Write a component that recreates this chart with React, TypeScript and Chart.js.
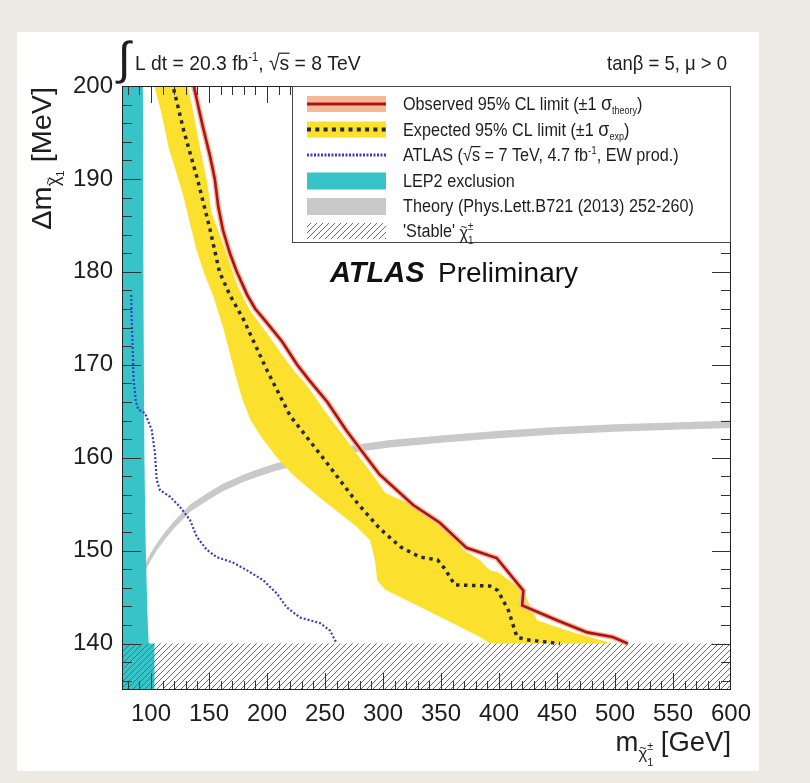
import React, { useEffect, useRef } from 'react';
import { Chart, registerables } from 'chart.js';

Chart.register(...registerables);

const FONT = "'Liberation Sans', Arial, Helvetica, sans-serif";

// ---- axes ----
const xMin = 75;
const xMax = 600;
const yMin = 135;
const yMax = 200;
const xTickLabels = [100, 150, 200, 250, 300, 350, 400, 450, 500, 550, 600];
const yTickLabels = [140, 150, 160, 170, 180, 190, 200];

// ---- observed 95% CL limit ----
const obsX = [136, 144, 151, 155, 158, 162, 168, 174, 183, 190, 200, 213, 226, 236, 252, 268, 283, 297, 326, 349, 372, 398, 421, 420, 450, 476, 498, 511];
const obsY = [200.5, 196, 192.4, 190, 187, 184.5, 182, 180, 177.5, 176, 174.5, 172.5, 170, 168.4, 166, 163, 160.5, 158.2, 154.9, 153, 150.3, 149.2, 145.7, 144.1, 142.5, 141.2, 140.7, 140];

// ---- expected 95% CL limit ----
const expX = [118, 128, 140, 151, 159, 168, 180, 200, 220, 250, 278, 297, 315, 332, 347, 353, 362, 392, 399, 408, 415.5, 424, 452.6];
const expY = [200.5, 195.3, 190, 184.5, 180, 177.5, 174.8, 169.4, 164.5, 159.7, 155.1, 152.4, 150.4, 149.3, 149, 148.1, 146.3, 146.2, 145.7, 143.6, 140.7, 140.4, 140];

// ---- expected ±1 sigma band: lower-left edge (top to bottom) ----
const bandLoX = [101.7, 109, 115, 122, 128, 133.6, 139.4, 146, 154, 162, 168, 173, 179, 186, 197, 208, 221, 234, 248.5, 263, 277, 289, 293, 295, 302, 326, 355, 383.6, 392];
const bandLoY = [200.5, 197.1, 193.5, 190.6, 188.1, 185.2, 182.3, 179.8, 177.3, 174.1, 171.2, 168.8, 166.2, 164, 161.9, 160.1, 158.3, 156.9, 155.4, 154, 152.6, 151.1, 149, 146.8, 145.8, 144.3, 142.5, 140.7, 140];
// ---- expected ±1 sigma band: upper-right edge (top to bottom) ----
const bandHiX = [131, 136.5, 142, 148, 152.3, 161, 168, 175, 185, 200, 214, 225, 233, 250, 265, 280, 292, 302, 334.5, 357.8, 369, 383.6, 392, 399, 420.7, 432.8, 458.6, 498];
const bandHiY = [200.5, 197.1, 193.5, 189.9, 186.3, 183.4, 180.9, 178.4, 175.9, 173.4, 170.9, 169.1, 168, 165, 162.5, 160, 158, 156.2, 154.4, 152.2, 150.1, 149, 147.9, 147.7, 145.7, 142.5, 141.4, 140];

// ---- ATLAS 7 TeV, 4.7 fb-1 ----
const atlas7X = [83, 83.3, 84.2, 84.7, 85, 87, 89, 94.8, 100.6, 103.4, 104.9, 107.8, 116.4, 125, 133.6, 139.4, 148, 156.6, 171, 182.5, 196.8, 208.4, 217, 228.4, 245.7, 254.3, 260.1];
const atlas7Y = [177.5, 174.8, 172, 169.4, 168.4, 166, 165.2, 164.8, 163, 160.5, 157.6, 156.5, 155.8, 154.7, 153.3, 151.5, 150.1, 149.3, 148.7, 147.9, 146.8, 145.4, 143.9, 142.8, 142.2, 141.4, 140];

// ---- LEP2 exclusion ----
const lepX = [75, 93, 93.2, 93.6, 94.3, 95.5, 97, 98, 103, 103, 75];
const lepY = [200.5, 200.5, 190, 175, 160, 150, 143, 140, 140, 134.5, 134.5];

// ---- Theory band ----
const thX = [88, 91, 95, 100, 105, 112, 120, 134, 150, 162, 180, 191, 205, 220, 248, 277, 306, 350, 400, 450, 500, 550, 600];
const thLo = [146.2, 146.9, 147.8, 149.0, 150.0, 151.2, 152.4, 154.2, 155.5, 156.4, 157.4, 157.9, 158.5, 159.0, 159.9, 160.6, 161.1, 161.6, 162.1, 162.5, 162.8, 163.0, 163.2];
const thHi = [147.0, 147.7, 148.6, 149.8, 150.8, 152.0, 153.2, 155.0, 156.3, 157.2, 158.2, 158.7, 159.3, 159.8, 160.7, 161.4, 161.9, 162.4, 162.9, 163.3, 163.6, 163.8, 164.0];

// ---- 'Stable' region ----
const stableX = [75, 600, 600, 75];
const stableY = [135, 135, 140, 140];

const legendLabels = [
  'Observed 95% CL limit',
  'Expected 95% CL limit',
  'ATLAS',
  'LEP2 exclusion',
  'Theory (Phys.Lett.B721 (2013) 252-260)',
  "'Stable'",
];

const C_RED = '#a8141a';
const C_SALMON = '#f6b996';
const C_YELLOW = '#fbe12e';
const C_BLUE = '#3a3ad0';
const C_CYAN = '#38c3c8';
const C_GRAY = '#c9c9c9';
const C_DASH = '#2a2a2a';
const C_TEXT = '#1e1e1e';

const pts = (xs: number[], ys: number[]) => xs.map((x, i) => ({ x, y: ys[i] }));

type Seg = { t: string; s?: number; dy?: number; st?: boolean; ov?: boolean; ol?: boolean; w?: string };

function rich(
  ctx: CanvasRenderingContext2D,
  segs: Seg[],
  x: number,
  y: number,
  base: number,
  align: 'left' | 'right' | 'center',
  sx = 1,
  color = C_TEXT,
) {
  const items: { seg: Seg; size: number; start: number; w: number }[] = [];
  let cur = 0;
  let ps = 0;
  let pw = 0;
  for (const sg of segs) {
    const size = sg.s ?? base;
    ctx.font = `${sg.w ?? ''} ${size}px ${FONT}`;
    const w = ctx.measureText(sg.t).width;
    let start: number;
    if (sg.ov) {
      start = ps + (pw - w) / 2;
    } else if (sg.st) {
      start = ps;
      cur = Math.max(cur, start + w);
    } else {
      start = cur;
      cur += w;
      ps = start;
      pw = w;
    }
    items.push({ seg: sg, size, start, w });
  }
  const off = align === 'right' ? -cur : align === 'center' ? -cur / 2 : 0;
  ctx.save();
  ctx.translate(x, y);
  ctx.scale(sx, 1);
  ctx.fillStyle = color;
  ctx.strokeStyle = color;
  ctx.textAlign = 'left';
  ctx.textBaseline = 'alphabetic';
  for (const it of items) {
    ctx.font = `${it.seg.w ?? ''} ${it.size}px ${FONT}`;
    const dy = it.seg.dy ?? 0;
    ctx.fillText(it.seg.t, off + it.start, dy);
    if (it.seg.ol) {
      ctx.lineWidth = 1.2;
      ctx.beginPath();
      ctx.moveTo(off + it.start - 1, dy - it.size * 0.8);
      ctx.lineTo(off + it.start + it.w + 0.5, dy - it.size * 0.8);
      ctx.stroke();
    }
  }
  ctx.restore();
}

function makeHatch(): CanvasPattern {
  const c = document.createElement('canvas');
  const s = 6;
  c.width = s;
  c.height = s;
  const g = c.getContext('2d')!;
  g.strokeStyle = '#6a6a6a';
  g.lineWidth = 1;
  g.beginPath();
  g.moveTo(0, s);
  g.lineTo(s, 0);
  g.moveTo(-1, 1);
  g.lineTo(1, -1);
  g.moveTo(s - 1, s + 1);
  g.lineTo(s + 1, s - 1);
  g.stroke();
  return g.createPattern(c, 'repeat')!;
}

export default function App() {
  const ref = useRef<HTMLCanvasElement>(null);

  useEffect(() => {
    const canvas = ref.current!;
    const ctx = canvas.getContext('2d')!;
    const hatch = makeHatch();

    const yellowPoly = [...pts(bandLoX, bandLoY), ...pts(bandHiX, bandHiY).reverse()];
    const theoryPoly = [...pts(thX, thLo), ...pts(thX, thHi).reverse()];

    const decor = {
      id: 'atlasDecor',
      beforeDraw(chart: any) {
        const c = chart.ctx as CanvasRenderingContext2D;
        c.save();
        c.fillStyle = '#ecebe3';
        c.fillRect(0, 0, chart.width, chart.height);
        c.fillStyle = '#ffffff';
        c.fillRect(17, 32, 759 - 17, 771 - 32);
        c.restore();
      },
      afterDatasetsDraw(chart: any) {
        const c = chart.ctx as CanvasRenderingContext2D;
        const { left, right, top, bottom } = chart.chartArea;
        const xs = chart.scales.x;
        const ys = chart.scales.y;
        c.save();
        c.strokeStyle = '#333';
        c.lineWidth = 1;
        c.beginPath();
        for (let v = 80; v < 600; v += 10) {
          const px = Math.round(xs.getPixelForValue(v)) + 0.5;
          const len = v % 50 === 0 ? 17 : 9;
          c.moveTo(px, bottom);
          c.lineTo(px, bottom - len);
          c.moveTo(px, top);
          c.lineTo(px, top + len);
        }
        for (let v = 136; v < 200; v += 2) {
          const py = Math.round(ys.getPixelForValue(v)) + 0.5;
          const len = v % 10 === 0 ? 19 : 10;
          c.moveTo(left, py);
          c.lineTo(left + len, py);
          c.moveTo(right, py);
          c.lineTo(right - len, py);
        }
        c.stroke();
        c.strokeStyle = '#222';
        c.strokeRect(left + 0.5, top + 0.5, right - left - 1, bottom - top - 1);
        c.restore();
      },
      afterDraw(chart: any) {
        const c = chart.ctx as CanvasRenderingContext2D;
        const { right, top } = chart.chartArea;
        // ---- legend ----
        const lx0 = 292;
        const ly1 = 242;
        c.save();
        c.fillStyle = '#fff';
        c.fillRect(lx0, top, right - lx0, ly1 - top);
        c.strokeStyle = '#444';
        c.lineWidth = 1;
        c.strokeRect(lx0 + 0.5, top + 0.5, right - lx0 - 1, ly1 - top);
        const rows = [104, 129.5, 155, 180.5, 206, 231];
        const sx0 = 307;
        const sx1 = 386;
        // observed
        c.fillStyle = C_SALMON;
        c.fillRect(sx0, rows[0] - 8, sx1 - sx0, 16);
        c.strokeStyle = C_RED;
        c.lineWidth = 3;
        c.beginPath();
        c.moveTo(sx0, rows[0]);
        c.lineTo(sx1, rows[0]);
        c.stroke();
        // expected
        c.fillStyle = C_YELLOW;
        c.fillRect(sx0, rows[1] - 8, sx1 - sx0, 16);
        c.strokeStyle = C_DASH;
        c.lineWidth = 4;
        c.setLineDash([4, 4.3]);
        c.beginPath();
        c.moveTo(sx0, rows[1]);
        c.lineTo(sx1, rows[1]);
        c.stroke();
        // atlas 7
        c.strokeStyle = C_BLUE;
        c.lineWidth = 3;
        c.setLineDash([2, 1.5]);
        c.beginPath();
        c.moveTo(sx0, rows[2]);
        c.lineTo(sx1, rows[2]);
        c.stroke();
        c.setLineDash([]);
        // lep
        c.fillStyle = C_CYAN;
        c.fillRect(sx0, rows[3] - 8, sx1 - sx0, 17);
        // theory
        c.fillStyle = C_GRAY;
        c.fillRect(sx0, rows[4] - 8, sx1 - sx0, 17);
        // stable
        c.fillStyle = hatch;
        c.fillRect(sx0, rows[5] - 8, sx1 - sx0, 16);
        c.restore();

        const tx = 403;
        const ls = 18;
        const lsx = 0.9;
        const b = 6;
        rich(c, [{ t: legendLabels[0] + ' (±1 ' }, { t: 'σ', s: 20 }, { t: 'theory', s: 10, dy: 4 }, { t: ')' }], tx, rows[0] + b, ls, 'left', lsx);
        rich(c, [{ t: legendLabels[1] + ' (±1 ' }, { t: 'σ', s: 20 }, { t: 'exp', s: 10, dy: 4 }, { t: ')' }], tx, rows[1] + b, ls, 'left', lsx);
        rich(
          c,
          [{ t: legendLabels[2] + ' (' }, { t: '√' }, { t: 's', ol: true }, { t: ' = 7 TeV, 4.7 fb' }, { t: '-1', s: 11, dy: -7 }, { t: ', EW prod.)' }],
          tx,
          rows[2] + b,
          ls,
          'left',
          lsx,
        );
        rich(c, [{ t: legendLabels[3] }], tx, rows[3] + b, ls, 'left', lsx);
        rich(c, [{ t: legendLabels[4] }], tx, rows[4] + b, ls, 'left', lsx);
        rich(
          c,
          [{ t: legendLabels[5] + ' ' }, { t: 'χ', s: 18, dy: 2 }, { t: '~', s: 12, dy: -6, ov: true }, { t: '±', s: 11, dy: -7 }, { t: '1', s: 11, dy: 7, st: true }],
          tx,
          rows[5] + b,
          ls,
          'left',
          lsx,
        );

        // ---- ATLAS Preliminary ----
        rich(c, [{ t: 'ATLAS', w: 'italic bold' }], 330, 282, 29, 'left', 1, '#111');
        rich(c, [{ t: 'Preliminary' }], 438, 282, 28, 'left', 1, '#111');

        // ---- top labels ----
        c.save();
        c.fillStyle = C_TEXT;
        c.font = `46px ${FONT}`;
        c.textBaseline = 'alphabetic';
        c.fillText('∫', 118, 74);
        c.restore();
        rich(
          c,
          [{ t: 'L dt = 20.3 fb' }, { t: '-1', s: 12, dy: -9 }, { t: ', ' }, { t: '√' }, { t: 's', ol: true }, { t: ' = 8 TeV' }],
          135,
          70,
          21,
          'left',
          0.92,
        );
        rich(c, [{ t: 'tanβ = 5, μ > 0' }], 727, 70, 21, 'right', 0.88);

        // ---- axis titles ----
        rich(
          c,
          [{ t: 'm' }, { t: 'χ', s: 17, dy: 8 }, { t: '~', s: 12, dy: 0.5, ov: true }, { t: '±', s: 11, dy: -1 }, { t: '1', s: 11, dy: 15, st: true }, { t: ' [GeV]' }],
          731,
          751,
          28,
          'right',
          0.98,
        );
        c.save();
        c.translate(51, 87);
        c.rotate(-Math.PI / 2);
        rich(
          c,
          [{ t: 'Δm' }, { t: 'χ', s: 18, dy: 8 }, { t: '~', s: 12, dy: 0.5, ov: true }, { t: '1', s: 11, dy: 13 }, { t: ' [MeV]' }],
          0,
          0,
          28,
          'right',
          1.03,
        );
        c.restore();
      },
    };

    const chart = new Chart(ctx, {
      type: 'scatter',
      data: {
        datasets: [
          {
            label: 'stable',
            data: pts(stableX, stableY),
            showLine: true,
            borderWidth: 0,
            borderColor: 'rgba(0,0,0,0)',
            backgroundColor: hatch as any,
            fill: 'shape',
            pointRadius: 0,
            order: 1,
          },
          {
            label: 'atlas7',
            data: pts(atlas7X, atlas7Y),
            showLine: true,
            borderWidth: 2.2,
            borderColor: C_BLUE,
            borderDash: [2, 2],
            fill: false,
            pointRadius: 0,
            order: 2,
          },
          {
            label: 'lep',
            data: pts(lepX, lepY),
            showLine: true,
            borderWidth: 0,
            borderColor: 'rgba(0,0,0,0)',
            backgroundColor: C_CYAN,
            fill: 'shape',
            pointRadius: 0,
            order: 3,
          },
          {
            label: 'expected',
            data: pts(expX, expY),
            showLine: true,
            borderWidth: 3.5,
            borderColor: C_DASH,
            borderDash: [3.5, 4.5],
            fill: false,
            pointRadius: 0,
            order: 4,
          },
          {
            label: 'observed',
            data: pts(obsX, obsY),
            showLine: true,
            borderWidth: 2.6,
            borderColor: C_RED,
            fill: false,
            pointRadius: 0,
            order: 5,
          },
          {
            label: 'observedBand',
            data: pts(obsX, obsY),
            showLine: true,
            borderWidth: 5.5,
            borderColor: C_SALMON,
            fill: false,
            pointRadius: 0,
            order: 6,
          },
          {
            label: 'expectedBand',
            data: yellowPoly,
            showLine: true,
            borderWidth: 0,
            borderColor: 'rgba(0,0,0,0)',
            backgroundColor: C_YELLOW,
            fill: 'shape',
            pointRadius: 0,
            order: 7,
          },
          {
            label: 'theory',
            data: theoryPoly,
            showLine: true,
            borderWidth: 0,
            borderColor: 'rgba(0,0,0,0)',
            backgroundColor: C_GRAY,
            fill: 'shape',
            pointRadius: 0,
            order: 8,
          },
        ],
      },
      options: {
        animation: false,
        responsive: false,
        events: [],
        layout: { padding: { left: 0, top: 86, right: 79, bottom: 0 } },
        plugins: { legend: { display: false }, tooltip: { enabled: false } },
        scales: {
          x: {
            type: 'linear',
            min: xMin,
            max: xMax,
            grid: { display: false, drawTicks: false },
            border: { display: false },
            afterBuildTicks: (s: any) => {
              s.ticks = xTickLabels.map((v) => ({ value: v }));
            },
            afterFit: (s: any) => {
              s.height = 93;
            },
            ticks: {
              autoSkip: false,
              maxRotation: 0,
              padding: 10,
              color: C_TEXT,
              font: { family: FONT, size: 24 },
            },
          },
          y: {
            type: 'linear',
            min: yMin,
            max: yMax,
            grid: { display: false, drawTicks: false },
            border: { display: false },
            afterBuildTicks: (s: any) => {
              s.ticks = yTickLabels.map((v) => ({ value: v }));
            },
            afterFit: (s: any) => {
              s.width = 122;
            },
            ticks: {
              padding: 9,
              color: C_TEXT,
              font: { family: FONT, size: 24 },
            },
          },
        },
      },
      plugins: [decor],
    } as any);

    return () => chart.destroy();
  }, []);

  return (
    <div style={{ position: 'absolute', left: 0, top: 0, width: 810, height: 783 }}>
      <canvas ref={ref} width={810} height={783} style={{ display: 'block', width: 810, height: 783 }} />
    </div>
  );
}
